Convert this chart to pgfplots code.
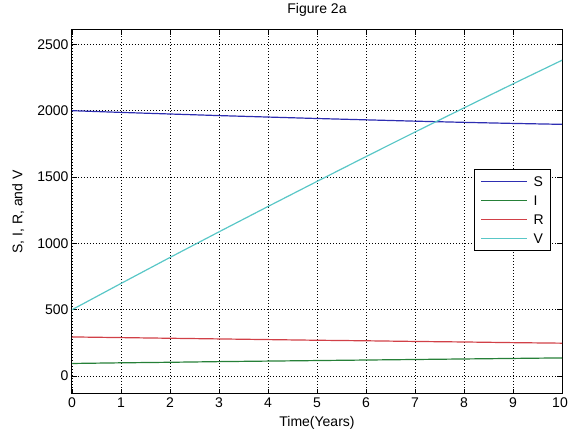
\documentclass[border=0pt]{standalone}
\usepackage{fontspec}
\setmainfont{Liberation Sans}
\usepackage{pgfplots}
\pgfplotsset{compat=1.18}
\definecolor{mS}{rgb}{0.18,0.18,0.70}
\definecolor{mI}{rgb}{0.15,0.50,0.22}
\definecolor{mR}{rgb}{0.82,0.25,0.28}
\definecolor{mV}{rgb}{0.35,0.78,0.78}
\begin{document}
\begin{tikzpicture}
\path[use as bounding box] (0,0) rectangle (568pt,436pt);
\begin{axis}[
  at={(72pt,42pt)}, anchor=south west,
  scale only axis, width=490pt, height=364pt,
  xmin=0, xmax=10, ymin=-135, ymax=2608,
  xtick={0,1,...,10}, ytick={0,500,1000,1500,2000,2500},
  xticklabels={0,1,2,3,4,5,6,7,8,9,\kern-4pt 10},
  font=\fontsize{14}{16}\selectfont,
  tick label style={font=\fontsize{14}{16}\selectfont},
  /pgf/number format/assume math mode=true,
  scaled y ticks=false,
  yticklabel style={/pgf/number format/1000 sep={}},
  tick align=inside, major tick length=5pt,
  tick style={black, line width=0.8pt},
  axis line style={black, line width=1pt},
  grid=major,
  major grid style={black, line width=0.8pt, dash pattern=on 0.8pt off 2.2pt},
  title={Figure 2a},
  title style={at={(axis description cs:0.5,1.0302)}, anchor=base, font=\fontsize{14}{16}\selectfont},
  xlabel={Time(Years)},
  xlabel style={at={(axis description cs:0.5,-0.088)}, anchor=base, font=\fontsize{14}{16}\selectfont},
  ylabel={S, I, R, and V},
  ylabel style={at={(axis description cs:-0.110,0.5)}, anchor=center, font=\fontsize{14}{16}\selectfont},
  legend style={at={(axis description cs:0.820,0.618)}, anchor=north west,
    draw=black, line width=1pt, fill=white,
    inner xsep=6pt, inner ysep=6pt, row sep=7pt, column sep=5pt,
    nodes={inner sep=1pt, text height=10pt, text depth=0pt, font=\fontsize{14}{16}\selectfont}},
  legend cell align=left,
  legend image code/.code={\draw[#1, line width=1.4pt] (0pt,0pt) -- (46pt,0pt);},
  every axis plot/.append style={line width=1.2pt},
]
\addplot[mS] coordinates {(0,2000)(1,1987)(2,1975)(3,1963)(4,1952)(5,1941)(6,1931)(7,1921)(8,1912)(9,1904)(10,1897)};
\addlegendentry{S}
\addplot[mI] coordinates {(0,95)(1,100)(2,104)(3,109)(4,113)(5,117)(6,121)(7,125)(8,129)(9,133)(10,137)};
\addlegendentry{I}
\addplot[mR] coordinates {(0,295)(1,290)(2,285)(3,280)(4,275)(5,270)(6,266)(7,261)(8,257)(9,252)(10,248)};
\addlegendentry{R}
\addplot[mV] coordinates {(0,500)(1,698)(2,894)(3,1087)(4,1278)(5,1467)(6,1654)(7,1839)(8,2021)(9,2202)(10,2380)};
\addlegendentry{V}
\end{axis}
\end{tikzpicture}
\end{document}
